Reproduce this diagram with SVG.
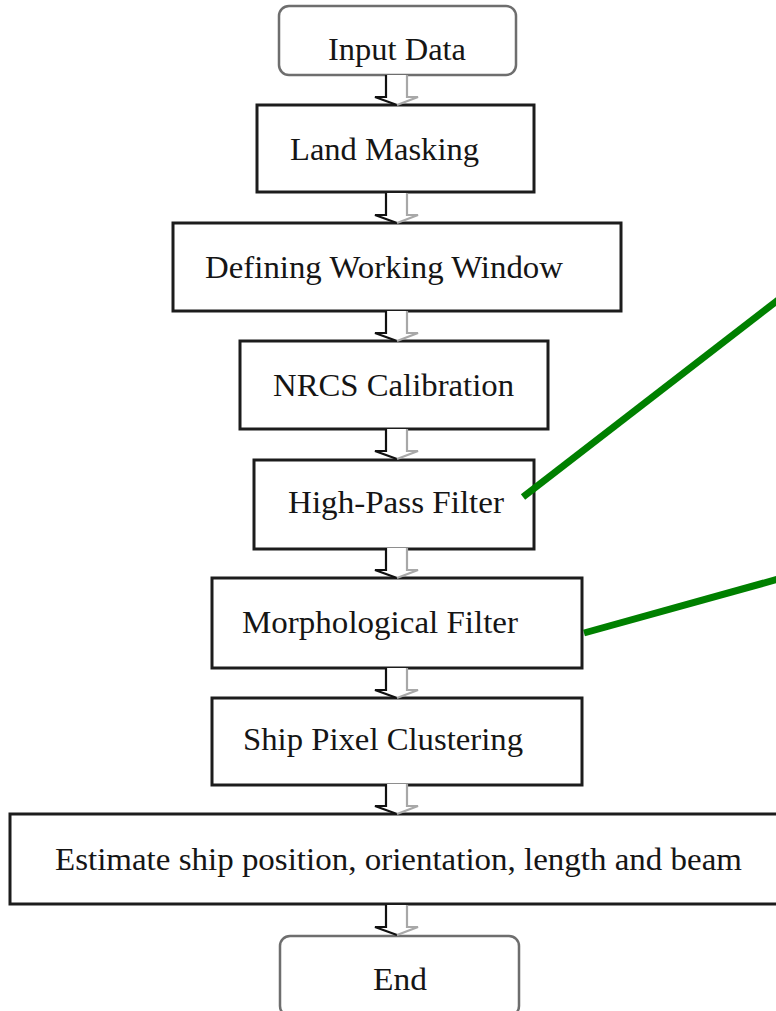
<svg xmlns="http://www.w3.org/2000/svg" width="776" height="1011" viewBox="0 0 776 1011">
  <defs>
    <style>
      .box { fill: #fff; stroke: #1c1c1c; stroke-width: 3; }
      .term { fill: #fff; stroke: #6e6e6e; stroke-width: 2.5; }
      .lbl { font-family: "Liberation Serif", "Times New Roman", serif; font-size: 32px; fill: #151515; }
      .arr-fill { fill: #fff; stroke: none; }
      .arr-dark { fill: none; stroke: #111; stroke-width: 2.2; }
      .arr-light { fill: none; stroke: #a8a8a8; stroke-width: 2.2; }
      .callout { stroke: #008000; stroke-width: 7; fill: none; }
    </style>
    <!-- hollow block arrow, drawn from y=0 (shaft top) to y=30 (tip) -->
    <g id="blockArrow">
      <path class="arr-fill" d="M386,0 V22 H375 L397,30 L418,22 H407 V0 Z"/>
      <path class="arr-dark" d="M386,0 V22 H375 L397,30"/>
      <path class="arr-light" d="M407,0 V22 H418 L397,30"/>
    </g>
  </defs>

  <rect width="776" height="1011" fill="#fff"/>

  <g id="input-data">
    <rect class="term" x="279" y="6" width="237" height="69" rx="10"/>
    <text class="lbl" x="328" y="60" textLength="138" lengthAdjust="spacingAndGlyphs">Input Data</text>
  </g>

  <g id="land-masking">
    <rect class="box" x="257" y="105" width="277" height="87"/>
    <text class="lbl" x="290" y="160" textLength="189" lengthAdjust="spacingAndGlyphs">Land Masking</text>
  </g>

  <g id="working-window">
    <rect class="box" x="173" y="223" width="448" height="88"/>
    <text class="lbl" x="205" y="278" textLength="358" lengthAdjust="spacingAndGlyphs">Defining Working Window</text>
  </g>

  <g id="nrcs-calibration">
    <rect class="box" x="240" y="341" width="308" height="88"/>
    <text class="lbl" x="273" y="396" textLength="241" lengthAdjust="spacingAndGlyphs">NRCS Calibration</text>
  </g>

  <g id="high-pass-filter">
    <rect class="box" x="254" y="460" width="280" height="89"/>
    <text class="lbl" x="288" y="513" textLength="216" lengthAdjust="spacingAndGlyphs">High-Pass Filter</text>
  </g>

  <g id="morphological-filter">
    <rect class="box" x="212" y="578" width="370" height="90"/>
    <text class="lbl" x="242" y="633" textLength="276" lengthAdjust="spacingAndGlyphs">Morphological Filter</text>
  </g>

  <g id="ship-pixel-clustering">
    <rect class="box" x="212" y="698" width="370" height="87"/>
    <text class="lbl" x="243" y="750" textLength="280" lengthAdjust="spacingAndGlyphs">Ship Pixel Clustering</text>
  </g>

  <g id="estimate">
    <rect class="box" x="10" y="814" width="770" height="90"/>
    <text class="lbl" x="55" y="870" textLength="687" lengthAdjust="spacingAndGlyphs">Estimate ship position, orientation, length and beam</text>
  </g>

  <g id="end">
    <rect class="term" x="280" y="936" width="239" height="80" rx="10"/>
    <text class="lbl" x="373" y="990" textLength="54" lengthAdjust="spacingAndGlyphs">End</text>
  </g>

  <!-- connectors: block arrows between steps, green callout lines on top -->
  <g id="connectors">
    <use href="#blockArrow" transform="translate(0,75)"/>
    <use href="#blockArrow" transform="translate(0,193)"/>
    <use href="#blockArrow" transform="translate(0,311)"/>
    <use href="#blockArrow" transform="translate(0,429)"/>
    <use href="#blockArrow" transform="translate(0,548)"/>
    <use href="#blockArrow" transform="translate(0,668)"/>
    <use href="#blockArrow" transform="translate(0,784)"/>
    <use href="#blockArrow" transform="translate(0,905)"/>
    <line class="callout" x1="523" y1="497" x2="782" y2="297"/>
    <line class="callout" x1="584" y1="633" x2="782" y2="578"/>
  </g>
</svg>
